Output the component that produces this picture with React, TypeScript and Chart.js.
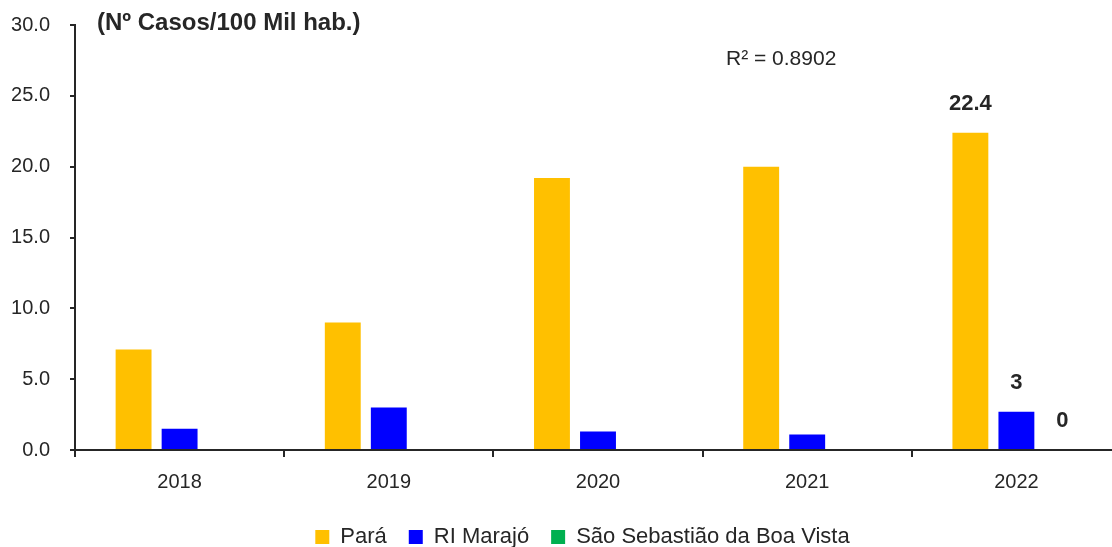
import React, { useEffect, useRef } from "react";
import { Chart, registerables } from "chart.js";

Chart.register(...registerables);

const categories = ["2018", "2019", "2020", "2021", "2022"];
const paraValues = [7.1, 9.0, 19.2, 20.0, 22.4];
const marajoValues = [1.5, 3.0, 1.3, 1.1, 2.7];
const saoSebastiaoValues = [0, 0, 0, 0, 0];
const labelsShown2022 = ["22.4", "3", "0"];
const seriesNames = ["Pará", "RI Marajó", "São Sebastião da Boa Vista"];
const yTicks = [0, 5, 10, 15, 20, 25, 30];
const titleText = "(Nº Casos/100 Mil hab.)";
const r2Text = "R² = 0.8902";

const FONT = "'Liberation Sans Narrow', 'Arial Narrow', 'Liberation Sans', Arial, sans-serif";
const TEXT = "#262626";

export default function App() {
  const ref = useRef<HTMLCanvasElement | null>(null);
  useEffect(() => {
    document.body.style.margin = "0";
    const canvas = ref.current!;
    const extras = {
      id: "extras",
      afterLayout(chart: any) {
        if (chart.legend) {
          chart.legend.left += 22;
          chart.legend.right += 22;
        }
      },
      afterDatasetsDraw(chart: any) {
        const ctx = chart.ctx;
        ctx.save();
        ctx.font = `bold 22px ${FONT}`;
        ctx.fillStyle = TEXT;
        ctx.textAlign = "center";
        ctx.textBaseline = "middle";
        const last = categories.length - 1;
        chart.data.datasets.forEach((ds: any, i: number) => {
          const el = chart.getDatasetMeta(i).data[last];
          ctx.fillText(labelsShown2022[i], el.x, el.y - 29);
        });
        ctx.textAlign = "left";
        ctx.font = `bold 24px ${FONT}`;
        ctx.fillText(titleText, 97, 23);
        ctx.font = `21px ${FONT}`;
        ctx.fillText(r2Text, 726, 59);
        ctx.restore();
      },
    };
    const chart = new Chart(canvas, {
      type: "bar",
      data: {
        labels: categories,
        datasets: [
          { label: seriesNames[0], data: paraValues, backgroundColor: "#FFC000" },
          { label: seriesNames[1], data: marajoValues, backgroundColor: "#0000FF" },
          { label: seriesNames[2], data: saoSebastiaoValues, backgroundColor: "#00B050" },
        ],
      },
      options: {
        animation: false,
        responsive: false,
        maintainAspectRatio: false,
        layout: { padding: { top: 25, left: 0, right: 0, bottom: -11 } },
        datasets: { bar: { categoryPercentage: 0.66, barPercentage: 0.78 } },
        plugins: {
          legend: {
            position: "bottom",
            labels: {
              font: { family: FONT, size: 22 },
              color: TEXT,
              boxWidth: 14,
              boxHeight: 14,
              padding: 22,
            },
          },
          tooltip: { enabled: false },
          title: { display: false },
        },
        scales: {
          x: {
            grid: { offset: true, drawOnChartArea: false, drawTicks: true, tickLength: 7, color: "#262626", lineWidth: 2 },
            border: { display: true, color: "#262626", width: 2 },
            ticks: { font: { family: FONT, size: 20 }, color: TEXT, padding: 13 },
            afterFit: (s: any) => { s.height = 54; s.paddingLeft = 0; s.paddingRight = 0; },
          },
          y: {
            min: 0,
            max: 30,
            afterBuildTicks: (s: any) => { s.ticks = yTicks.map((v) => ({ value: v })); },
            grid: { drawOnChartArea: false, drawTicks: true, tickLength: 5, color: "#262626", lineWidth: 2 },
            border: { display: true, color: "#262626", width: 2 },
            ticks: {
              font: { family: FONT, size: 20 },
              color: TEXT,
              padding: 20,
              callback: (v: any) => Number(v).toFixed(1),
            },
            afterFit: (s: any) => { s.width = 75; s.paddingTop = 0; s.paddingBottom = 0; },
          },
        },
      },
      plugins: [extras],
    });
    return () => chart.destroy();
  }, []);
  return (
    <div style={{ width: 1112, height: 547, overflow: "hidden" }}>
      <canvas ref={ref} width={1121} height={547} style={{ display: "block" }} />
    </div>
  );
}
